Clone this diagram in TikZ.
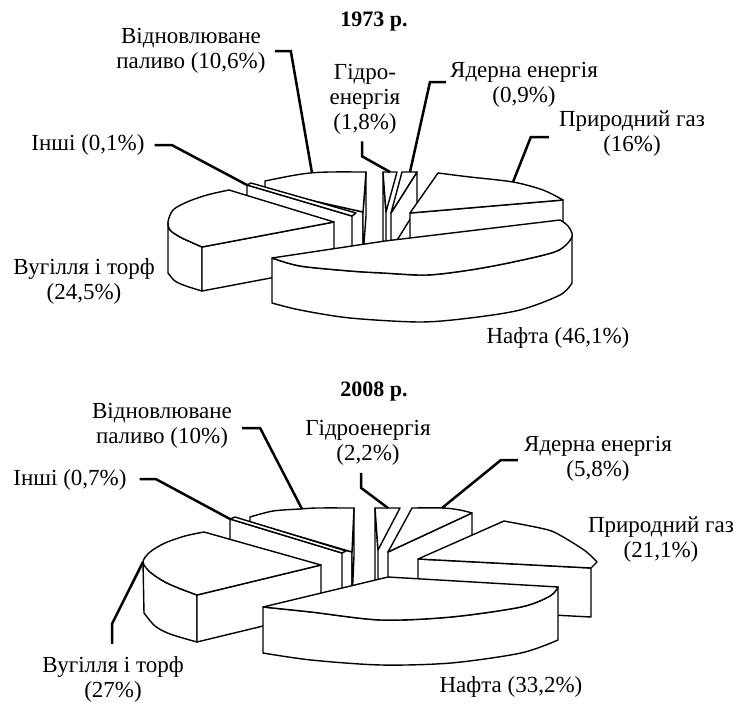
\documentclass[tikz,border=0pt]{standalone}
\usepackage{fontspec}
\setmainfont{Liberation Serif}
\usepackage{tikz}
\tikzstyle{piece}=[draw=black,fill=white,line width=1.4pt,line join=round]
\tikzstyle{leader}=[draw=black,line width=2.5pt,line join=miter]
\tikzstyle{tag}=[align=center,inner sep=0pt,font=\fontsize{23}{25}\selectfont]
\tikzstyle{title}=[inner sep=0pt,font=\fontsize{22}{25}\selectfont\bfseries]

\begin{document}
\begin{tikzpicture}[x=1pt,y=-1pt]
  \useasboundingbox (0,0) rectangle (745,704);

  % 1973
  \node[title] (t73) at (374,22) {1973 р.};
  \node[tag] (vid73) at (191,51) {Відновлюване\\паливо (10,6\%)};
  \node[tag] (hyd73) at (365,99) {Гідро-\\енергія\\(1,8\%)};
  \node[tag] (nuc73) at (524,85) {Ядерна енергія\\(0,9\%)};
  \node[tag] (gas73) at (632,134) {Природний газ\\(16\%)};
  \node[tag] (oth73) at (88,145) {Інші (0,1\%)};
  \node[tag] (coal73) at (84,281) {Вугілля і торф\\(24,5\%)};
  \node[tag] (oil73) at (558,338) {Нафта (46,1\%)};

  \draw[piece] (265,190) -- (363,212) -- (363,256) -- (265,234) -- cycle;
  \draw[piece] (366,172) -- (363,212) -- (363,256) -- (366,216) -- cycle;
  \draw[piece] plot[smooth] coordinates {(265,181) (290,176) (310,173) (330,172) (366,172)}
    -- (363,212) -- (265,190) -- cycle;
  \draw[piece] (383,172) -- (386,212) -- (386,245) -- (383,245) -- cycle;
  \draw[piece] (383,172) -- (397,172) -- (386,212) -- cycle;
  \draw[piece] (391,213) -- (417,172) -- (417,208) -- (391,250) -- cycle;
  \draw[piece] (402,172) -- (417,172) -- (391,213) -- cycle;
  \draw[piece] (410,213) -- (563,200) -- (563,244) -- (410,257) -- cycle;
  \draw[piece] (410,213) -- plot[smooth] coordinates {(438,173) (470,177) (513,182) (543,190) (563,200)} -- cycle;
  \draw[piece] (247,185) -- (352,216) -- (352,260) -- (247,229) -- cycle;
  \draw[piece] (247,185) -- (251,183) -- (356,213) -- (352,216) -- cycle;
  \draw[piece] plot[smooth] coordinates {(168,222) (170,230) (180,237) (193,243) (202,247)}
    -- (202,291) -- plot[smooth] coordinates {(202,291) (186,286) (175,281) (168,273)} -- cycle;
  \draw[piece] (202,247) -- (334,222) -- (334,266) -- (202,291) -- cycle;
  \draw[piece] (334,222) -- plot[smooth] coordinates {(229,190) (207,195) (187,202) (173,210) (168,222)
    (170,230) (180,237) (193,243) (202,247)} -- cycle;
  \draw[piece] plot[smooth] coordinates {(272,258) (300,266) (350,271) (383,273) (427,275) (470,270)
    (513,262) (557,251) (572,237)} -- (572,283)
    -- plot[smooth] coordinates {(572,283) (560,295) (520,310) (470,318) (420,322) (350,318) (300,310) (272,303)} -- cycle;
  \draw[piece] (385,241) -- (560,220) -- plot[smooth] coordinates {(560,220) (568,226) (572,237) (557,251)
    (513,262) (470,270) (427,275) (383,273) (350,271) (300,266) (272,258)} -- cycle;

  \coordinate (vid73p) at (312,173);
  \coordinate (hyd73p) at (390,172);
  \coordinate (nuc73p) at (410,172);
  \coordinate (gas73p) at (513,182);
  \coordinate (oth73p) at (247,185);
  \draw[leader] ([xshift=9pt]vid73.east) -- ++(16,0) -- (vid73p);
  \draw[leader] ([xshift=-3pt,yshift=-7pt]hyd73.south) -- ++(0,15) -- (hyd73p);
  \draw[leader] ([xshift=-4pt,yshift=3pt]nuc73.west) -- ++(-16,0) -- (nuc73p);
  \draw[leader] ([xshift=-10pt,yshift=-3pt]gas73.west) -- ++(-18,0) -- (gas73p);
  \draw[leader] ([xshift=10pt]oth73.east) -- ++(17,0) -- (oth73p);

  % 2008
  \node[title] (t08) at (374,392) {2008 р.};
  \node[tag] (vid08) at (162,426) {Відновлюване\\паливо (10\%)};
  \node[tag] (oth08) at (70,480) {Інші (0,7\%)};
  \node[tag] (hyd08) at (368,443) {Гідроенергія\\(2,2\%)};
  \node[tag] (nuc08) at (598,459) {Ядерна енергія\\(5,8\%)};
  \node[tag] (gas08) at (661,540) {Природний газ\\(21,1\%)};
  \node[tag] (coal08) at (113,679) {Вугілля і торф\\(27\%)};
  \node[tag] (oil08) at (511,687) {Нафта (33,2\%)};

  \draw[piece] (250,522) -- (352,552) -- (352,600) -- (250,570) -- cycle;
  \draw[piece] (354,508) -- (352,552) -- (352,600) -- (354,556) -- cycle;
  \draw[piece] plot[smooth] coordinates {(250,517) (273,511) (300,509) (317,508) (354,508)}
    -- (352,552) -- (250,522) -- cycle;
  \draw[piece] (375,508) -- (378,550) -- (378,595) -- (375,595) -- cycle;
  \draw[piece] (375,508) -- (400,508) -- (378,550) -- cycle;
  \draw[piece] (388,552) -- (472,513) -- (472,561) -- (388,600) -- cycle;
  \draw[piece] (388,552) -- plot[smooth] coordinates {(412,508) (443,508) (460,510) (472,513)} -- cycle;
  \draw[piece] (418,559) -- (591,568) -- (591,617) -- (418,608) -- cycle;
  \draw[piece] (418,559) -- plot[smooth] coordinates {(504,521) (540,528) (556,533) (584,550) (597,562)}
    -- (591,568) -- cycle;
  \draw[piece] (230,519) -- (342,553) -- (342,600) -- (230,566) -- cycle;
  \draw[piece] (230,519) -- (235,517) -- (346,551) -- (342,553) -- cycle;
  \draw[piece] plot[smooth] coordinates {(143,562) (150,572) (165,582) (181,589) (197,595)}
    -- (197,642) -- plot[smooth] coordinates {(197,642) (170,634) (155,626) (144,613)} -- cycle;
  \draw[piece] (197,595) -- (321,565) -- (321,612) -- (197,642) -- cycle;
  \draw[piece] (321,565) -- plot[smooth] coordinates {(204,532) (185,536) (165,543) (150,552) (143,562)
    (150,572) (165,582) (181,589) (197,595)} -- cycle;
  \draw[piece] plot[smooth] coordinates {(263,607) (311,612) (381,620) (451,617) (521,607) (550,596) (558,587)}
    -- (558,640) -- plot[smooth] coordinates {(558,640) (521,653) (451,663) (381,665) (311,660) (263,653)} -- cycle;
  \draw[piece] (388,577) -- (558,587) -- plot[smooth] coordinates {(558,587) (550,596) (521,607) (451,617)
    (381,620) (311,612) (263,607)} -- cycle;

  \coordinate (vid08p) at (302,509);
  \coordinate (oth08p) at (230,519);
  \coordinate (hyd08p) at (388,508);
  \coordinate (nuc08p) at (442,508);
  \coordinate (coal08p) at (143,562);
  \draw[leader] ([xshift=10pt,yshift=-2pt]vid08.east) -- ++(18,0) -- (vid08p);
  \draw[leader] ([xshift=13pt,yshift=1pt]oth08.east) -- ++(16,0) -- (oth08p);
  \draw[leader] ([xshift=-7pt,yshift=-7pt]hyd08.south) -- ++(0,15) -- (hyd08p);
  \draw[leader] ([xshift=-6pt,yshift=-1pt]nuc08.west) -- ++(-17,0) -- (nuc08p);
  \draw[leader] ([xshift=-1pt,yshift=12pt]coal08.north) -- ++(0,-20) -- (coal08p);
\end{tikzpicture}
\end{document}
